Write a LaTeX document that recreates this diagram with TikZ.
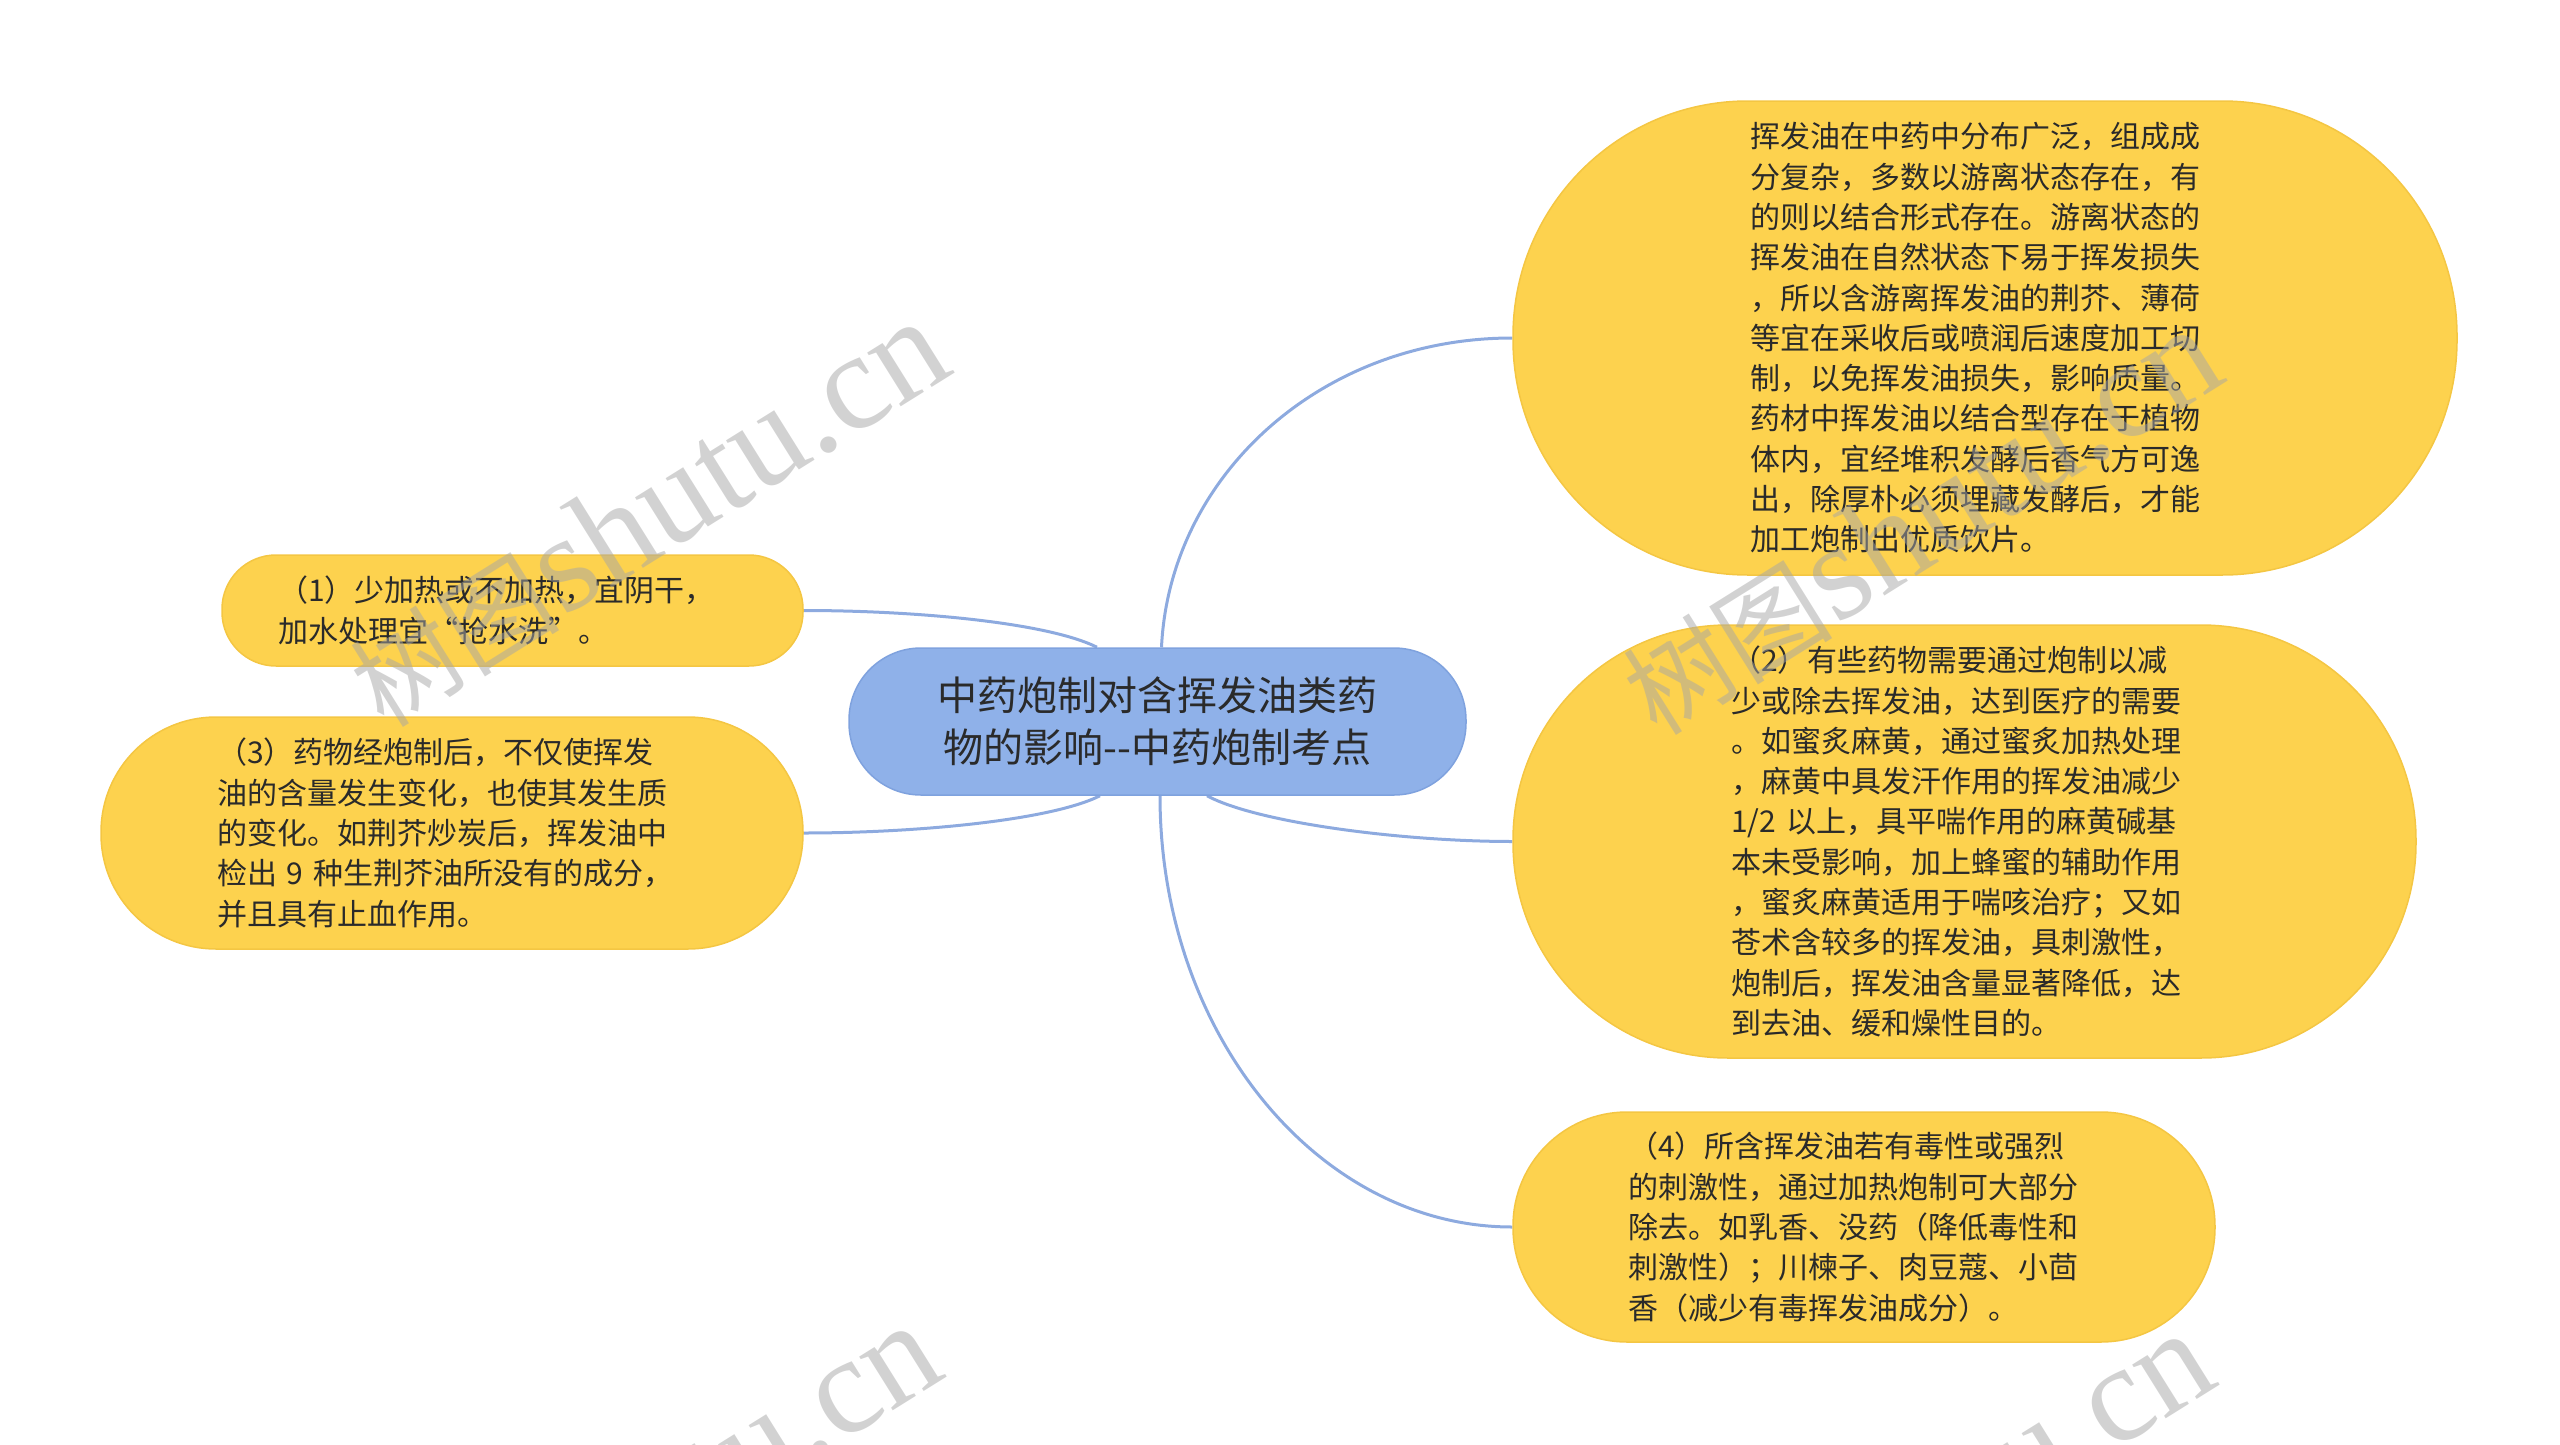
\documentclass[tikz,border=0pt]{standalone}
\usepackage{fontspec}
\setmainfont{Noto Sans CJK SC}
\newfontfamily\wmlatin{Liberation Serif}
\usetikzlibrary{calc}
\definecolor{nodeyellow}{HTML}{FDD24E}
\definecolor{nodeyellowedge}{HTML}{F4C643}
\definecolor{rootblue}{HTML}{8FB1E9}
\definecolor{rootedge}{HTML}{7FA2DE}
\definecolor{linkblue}{HTML}{8DAADF}
\definecolor{txt}{HTML}{2A2A2A}
\pgfdeclarelayer{bg}
\pgfsetlayers{bg,main}
\begin{document}
\begin{tikzpicture}[x=1pt,y=-1pt,
  leaf/.style={rectangle, fill=nodeyellow, draw=nodeyellowedge, line width=1.5pt,
    inner sep=0pt, text=txt, align=left, font=\fontsize{30}{40.3}\selectfont},
  root/.style={rectangle, fill=rootblue, draw=rootedge, line width=1.5pt,
    inner sep=0pt, text=txt, align=center, font=\fontsize{40}{52}\selectfont},
  link/.style={draw=linkblue, line width=3pt},
  wm/.style={rotate=32, anchor=base west, text=black!35, opacity=0.5, inner sep=0pt}]
\useasboundingbox (0,0) rectangle (2560,1445);
\clip (0,0) rectangle (2560,1445);

\node[root, minimum width=617pt, minimum height=147pt, rounded corners=72pt] (root) at (1157.5,721.5)
  {中药炮制对含挥发油类药\\物的影响{-}{-}中药炮制考点};

\node[leaf, minimum width=944pt, minimum height=474pt, rounded corners=235pt, text width=470pt] (r1) at (1985,338)
  {挥发油在中药中分布广泛，组成成\\
   分复杂，多数以游离状态存在，有\\
   的则以结合形式存在。游离状态的\\
   挥发油在自然状态下易于挥发损失\\
   ，所以含游离挥发油的荆芥、薄荷\\
   等宜在采收后或喷润后速度加工切\\
   制，以免挥发油损失，影响质量。\\
   药材中挥发油以结合型存在于植物\\
   体内，宜经堆积发酵后香气方可逸\\
   出，除厚朴必须埋藏发酵后，才能\\
   加工炮制出优质饮片。};

\node[leaf, minimum width=903pt, minimum height=433pt, rounded corners=215pt, text width=467pt] (r2) at (1964.5,841.5)
  {（2）有些药物需要通过炮制以减\\
   少或除去挥发油，达到医疗的需要\\
   。如蜜炙麻黄，通过蜜炙加热处理\\
   ，麻黄中具发汗作用的挥发油减少\\
   1/2 以上，具平喘作用的麻黄碱基\\
   本未受影响，加上蜂蜜的辅助作用\\
   ，蜜炙麻黄适用于喘咳治疗；又如\\
   苍术含较多的挥发油，具刺激性，\\
   炮制后，挥发油含量显著降低，达\\
   到去油、缓和燥性目的。};

\node[leaf, minimum width=702pt, minimum height=230pt, rounded corners=114pt, text width=472pt] (r3) at (1864,1227)
  {（4）所含挥发油若有毒性或强烈\\
   的刺激性，通过加热炮制可大部分\\
   除去。如乳香、没药（降低毒性和\\
   刺激性）；川楝子、肉豆蔻、小茴\\
   香（减少有毒挥发油成分）。};

\node[leaf, minimum width=581pt, minimum height=111pt, rounded corners=54pt, text width=469pt] (l1) at (512.5,610.5)
  {（1）少加热或不加热，宜阴干，\\
   加水处理宜“抢水洗”。};

\node[leaf, minimum width=702pt, minimum height=232pt, rounded corners=115pt, text width=470pt] (l3) at (452,833)
  {（3）药物经炮制后，不仅使挥发\\
   油的含量发生变化，也使其发生质\\
   的变化。如荆芥炒炭后，挥发油中\\
   检出 9 种生荆芥油所没有的成分，\\
   并且具有止血作用。};

\begin{pgfonlayer}{bg}
\draw[link] ([xshift=4pt]root.north) .. controls +(8,-170) and +(-193,0) .. (r1.west);
\draw[link] ([xshift=49.5pt]root.south) .. controls +(50,27) and +(-110,0) .. (r2.west);
\draw[link] ([xshift=2.5pt]root.south) .. controls +(0,238) and +(-194,0) .. (r3.west);
\draw[link] ([xshift=-60.5pt]root.north) .. controls +(-50,-25) and +(110,0) .. (l1.east);
\draw[link] ([xshift=-57.5pt]root.south) .. controls +(-50,25) and +(110,0) .. (l3.east);
\end{pgfonlayer}

\node[wm] (wm1) at (384,730) {{\fontsize{105}{105}\selectfont 树图}\,{\wmlatin\fontsize{138}{138}\selectfont shutu.cn}};
\node[wm] (wm2) at (1657,738) {{\fontsize{105}{105}\selectfont 树图}\,{\wmlatin\fontsize{138}{138}\selectfont shutu.cn}};
\node[wm] (wm3) at (376,1734) {{\fontsize{105}{105}\selectfont 树图}\,{\wmlatin\fontsize{138}{138}\selectfont shutu.cn}};
\node[wm] (wm4) at (1649,1742) {{\fontsize{105}{105}\selectfont 树图}\,{\wmlatin\fontsize{138}{138}\selectfont shutu.cn}};
\end{tikzpicture}
\end{document}
